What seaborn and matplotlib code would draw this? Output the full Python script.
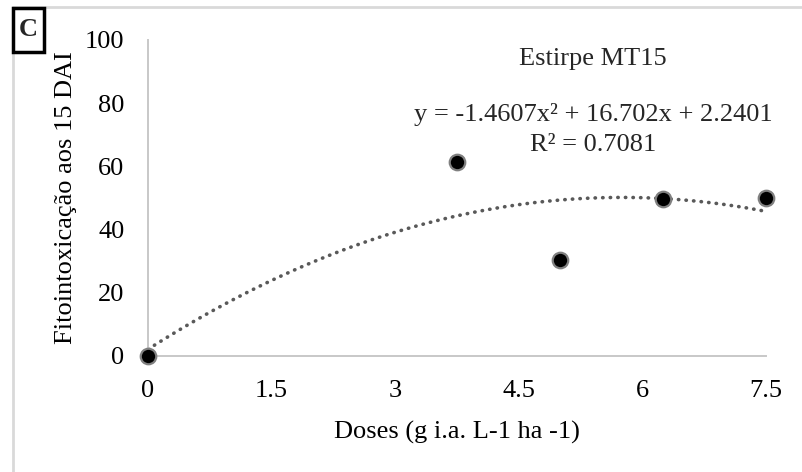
import matplotlib
matplotlib.use("Agg")
import matplotlib.pyplot as plt
import seaborn as sns
import pandas as pd
from matplotlib.lines import Line2D
from matplotlib.patches import Rectangle

doses = [0, 3.75, 5, 6.25, 7.5]
fito = [0, 61.3, 30.3, 49.8, 50.0]
xticks = [0, 1.5, 3, 4.5, 6, 7.5]
xtick_labels = ["0", "1.5", "3", "4.5", "6", "7.5"]
yticks = [0, 20, 40, 60, 80, 100]

df = pd.DataFrame({"dose": doses, "fito": fito})

sns.set_theme(style="white")
plt.rcParams["font.family"] = ["Liberation Serif", "DejaVu Serif"]
FS = 19

W, H = 802, 472
fig = plt.figure(figsize=(W / 100, H / 100), dpi=100)
ax = fig.add_axes([148 / W, 1 - 356 / H, (766 - 148) / W, (356 - 40) / H])

sns.regplot(data=df, x="dose", y="fito", order=2, ci=None, scatter=False, ax=ax,
            line_kws=dict(color="#595959", lw=2.6, ls=(0, (0.1, 2.0)),
                          dash_capstyle="round", solid_capstyle="round"))
sns.scatterplot(data=df, x="dose", y="fito", ax=ax, s=125, color="black",
                edgecolor="#808080", linewidth=1.6, zorder=5, clip_on=False)
for c in ax.collections:
    c.set_clip_on(False)

ax.set_xlim(0, 7.5)
ax.set_ylim(0, 100)
ax.set_xticks(xticks)
ax.set_xticklabels(xtick_labels)
ax.set_yticks(yticks)
ax.tick_params(axis="both", length=0, labelsize=FS, colors="black")
ax.tick_params(axis="y", pad=17)
ax.tick_params(axis="x", pad=17)
for s in ["top", "right"]:
    ax.spines[s].set_visible(False)
for s in ["left", "bottom"]:
    ax.spines[s].set_color("#c8c8c8")
    ax.spines[s].set_linewidth(1.4)
ax.grid(False)
ax.set_xlabel("Doses (g i.a. L-1 ha -1)", fontsize=FS, labelpad=14, color="black")
ax.set_ylabel("Fitointoxicação aos 15 DAI", fontsize=FS, labelpad=6, color="black")

fig.text(593 / W, 1 - 59 / H, "Estirpe MT15", fontsize=FS, ha="center", va="center")
fig.text(593 / W, 1 - 115 / H, "y = -1.4607x² + 16.702x + 2.2401", fontsize=FS,
         ha="center", va="center")
fig.text(593 / W, 1 - 145 / H, "R² = 0.7081", fontsize=FS, ha="center", va="center")

# outer chart border (left and top)
fig.add_artist(Line2D([13 / W, 13 / W], [0, 1 - 7 / H], transform=fig.transFigure,
                      color="#d9d9d9", lw=2))
fig.add_artist(Line2D([13 / W, 1], [1 - 7 / H, 1 - 7 / H], transform=fig.transFigure,
                      color="#d9d9d9", lw=2))

# panel letter box
fig.add_artist(Rectangle((13 / W, 1 - 52 / H), 31 / W, 44 / H, transform=fig.transFigure,
                         fill=True, facecolor="white", edgecolor="black", lw=2.5, zorder=10))
fig.text(28.5 / W, 1 - 30 / H, "C", fontsize=FS, fontweight="bold", ha="center",
         va="center", zorder=11)

fig.savefig("out.png", dpi=100)
